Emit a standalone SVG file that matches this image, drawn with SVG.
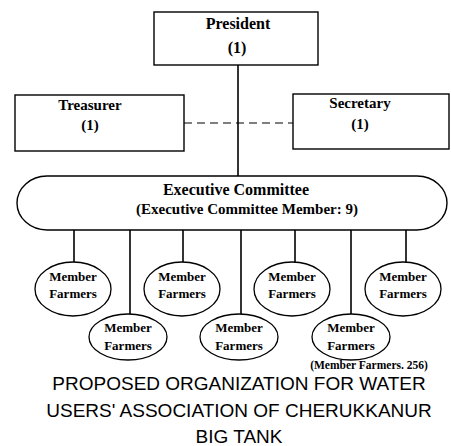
<svg xmlns="http://www.w3.org/2000/svg" width="451" height="446" viewBox="0 0 451 446">
<style>
.box{fill:#fff;stroke:#000;stroke-width:1.4}
.ell{fill:#fff;stroke:#000;stroke-width:1.3}
.ln{stroke:#000;stroke-width:1.6;fill:none}
.dash{stroke:#000;stroke-width:1;stroke-dasharray:8 5;fill:none}
.lbl{font-family:"Liberation Serif","Times New Roman",serif;font-weight:bold;text-anchor:middle;fill:#000}
.big{font-size:15px}
.xl{font-size:16px}
.sm{font-size:13px}
.note{font-size:11.5px}
.title{font-family:"Liberation Sans",Arial,sans-serif;font-size:19px;text-anchor:middle;fill:#000}
</style>
<rect width="451" height="446" fill="#fff"/>
<g id="connectors">
<line class="ln" x1="238" y1="65" x2="238" y2="176"/>
<line class="dash" x1="184" y1="123" x2="293" y2="123"/>
<line class="ln" x1="74" y1="230" x2="74" y2="262"/>
<line class="ln" x1="183" y1="230" x2="183" y2="262"/>
<line class="ln" x1="295" y1="230" x2="295" y2="262"/>
<line class="ln" x1="406" y1="230" x2="406" y2="262"/>
<line class="ln" x1="130" y1="230" x2="130" y2="314"/>
<line class="ln" x1="241" y1="230" x2="241" y2="314"/>
<line class="ln" x1="351" y1="230" x2="351" y2="314"/>
</g>
<g id="president">
<rect class="box" x="154" y="12" width="164" height="53"/>
<text class="lbl xl" x="238" y="29">President</text>
<text class="lbl xl" x="237" y="53">(1)</text>
</g>
<g id="treasurer">
<rect class="box" x="15" y="95" width="169" height="56"/>
<text class="lbl big" x="90" y="110">Treasurer</text>
<text class="lbl big" x="90" y="130">(1)</text>
</g>
<g id="secretary">
<rect class="box" x="293" y="94" width="156" height="55"/>
<text class="lbl big" x="360" y="108">Secretary</text>
<text class="lbl big" x="360" y="129">(1)</text>
</g>
<g id="executive">
<rect class="box" x="17" y="176" width="430" height="54" rx="30" ry="27"/>
<text class="lbl xl" x="236" y="195">Executive Committee</text>
<text class="lbl big" x="247" y="214">(Executive Committee Member: 9)</text>
</g>
<g id="m1"><ellipse class="ell" cx="73" cy="289" rx="38" ry="27"/><text class="lbl sm" x="73" y="281">Member</text><text class="lbl sm" x="73" y="298">Farmers</text></g>
<g id="m2"><ellipse class="ell" cx="182" cy="289" rx="38" ry="27"/><text class="lbl sm" x="182" y="281">Member</text><text class="lbl sm" x="182" y="298">Farmers</text></g>
<g id="m3"><ellipse class="ell" cx="292" cy="289" rx="38" ry="27"/><text class="lbl sm" x="292" y="281">Member</text><text class="lbl sm" x="292" y="298">Farmers</text></g>
<g id="m4"><ellipse class="ell" cx="403" cy="289" rx="38" ry="27"/><text class="lbl sm" x="403" y="281">Member</text><text class="lbl sm" x="403" y="298">Farmers</text></g>
<g id="m5"><ellipse class="ell" cx="128" cy="337" rx="39" ry="23"/><text class="lbl sm" x="128" y="332">Member</text><text class="lbl sm" x="128" y="350">Farmers</text></g>
<g id="m6"><ellipse class="ell" cx="239" cy="337" rx="39" ry="23"/><text class="lbl sm" x="239" y="332">Member</text><text class="lbl sm" x="239" y="350">Farmers</text></g>
<g id="m7"><ellipse class="ell" cx="351" cy="337" rx="39" ry="23"/><text class="lbl sm" x="351" y="332">Member</text><text class="lbl sm" x="351" y="350">Farmers</text></g>
<text class="lbl note" x="369" y="369">(Member Farmers. 256)</text>
<text class="title" x="239" y="390">PROPOSED ORGANIZATION FOR WATER</text>
<text class="title" x="239" y="417">USERS' ASSOCIATION OF CHERUKKANUR</text>
<text class="title" x="239" y="443">BIG TANK</text>
</svg>
